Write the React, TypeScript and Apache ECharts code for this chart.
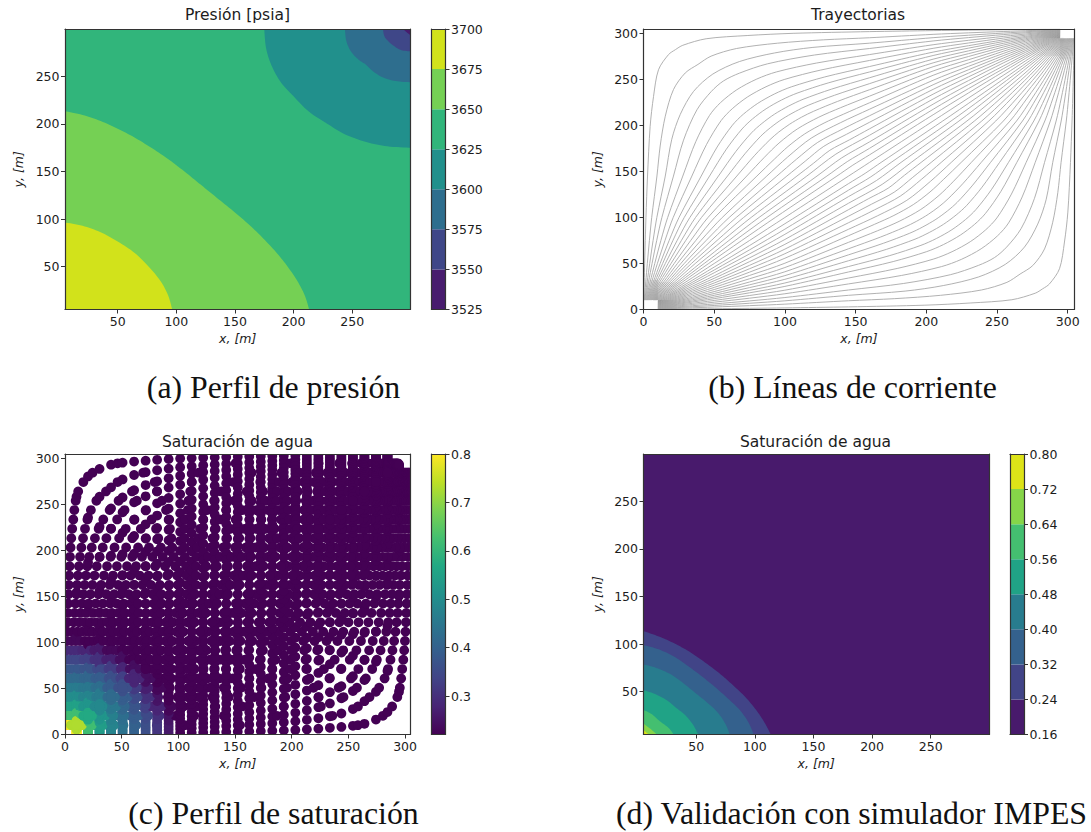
import React, { useEffect, useRef } from "react";
import * as echarts from "echarts";

const GRID_MIN = 5.08;
const GRID_MAX = 299.72;
const FIELD_MAX = 304.8;
const CELL = 10.16;
const WELL = 10.2;

const contourTicks = [50, 100, 150, 200, 250];
const fullTicks = [0, 50, 100, 150, 200, 250, 300];

// (a) pressure
const pressureLevels = [3525, 3550, 3575, 3600, 3625, 3650, 3675, 3700];
const pressureColors = ["#481c6e", "#3f4788", "#2e6e8e", "#21908c", "#31b57b", "#75d054", "#d2e21b"];
const p3650 = [[5.08, 213.3], [20, 209.5], [35.5, 203], [50, 195], [64, 186], [78, 175.5], [92, 164], [107, 150], [121, 136], [136, 121], [150, 107], [164, 92], [175.5, 78], [186, 64], [195, 50], [203, 35.5], [209.5, 20], [213.3, 5.08]];
const p3675 = [[5.08, 96.5], [20, 93], [35, 86.5], [50, 76.5], [64.5, 64.5], [76.5, 50], [86.5, 35], [93, 20], [96.5, 5.08]];
const p3625 = [[175, 299.72], [176.5, 280], [181, 262], [189, 244], [200, 229], [213, 213], [229, 200], [244, 189], [262, 181], [280, 176.5], [299.72, 175]];
const p3600 = [[243.8, 299.72], [245, 287], [249, 276], [255.5, 267.5], [262, 262], [267.5, 255.5], [276, 249], [287, 245], [299.72, 243.8]];
const p3575 = [[276.2, 299.72], [277.5, 292], [281.5, 286], [286, 281.5], [292, 277.5], [299.72, 276.2]];
const p3550 = [[293.2, 299.72], [299.72, 293]];

// (d) IMPES saturation
const impesLevels = [0.16, 0.24, 0.32, 0.4, 0.48, 0.56, 0.64, 0.72, 0.8];
const impesColors = ["#481a6c", "#414487", "#34618d", "#287c8e", "#20a386", "#44bf70", "#86d549", "#dde318"];
const s024 = [[5.08, 113.6], [15, 109.5], [25, 104.5], [35, 98.5], [45, 91.5], [55, 83], [65, 74], [74, 65], [83, 55], [91.5, 45], [98.5, 35], [104.5, 25], [109.5, 15], [113.6, 5.08]];
const s032 = [[5.08, 99], [18, 94.5], [31, 87], [43, 77], [55, 66], [66, 55], [77, 43], [87, 31], [94.5, 18], [99, 5.08]];
const s040 = [[5.08, 78.7], [16, 75], [28, 68.5], [38, 60], [49, 49], [60, 38], [68.5, 28], [75, 16], [78.7, 5.08]];
const s048 = [[5.08, 51.7], [15, 47.5], [25, 41], [33, 33], [41, 25], [47.5, 15], [51.7, 5.08]];
const s056 = [[5.08, 30.8], [12, 26.5], [19, 19], [26.5, 12], [30.8, 5.08]];
const s064 = [[5.08, 16.5], [11, 11], [16.5, 5.08]];
const s072 = [[5.08, 9.8], [9.4, 5.08]];

// (b) streamlines: x where each line of the upper half crosses these heights
const wellStartX = [0.16, 0.54, 0.88, 1.2, 1.6, 2, 2.35, 2.7, 3.1, 3.5, 3.9, 4.35, 4.83, 5.3, 5.8, 6.33, 6.88, 7.45, 8.06, 8.7, 9.38, 10.2];
const xAt18 = [0.29, 0.96, 1.55, 2.14, 2.81, 3.47, 4.16, 4.78, 5.46, 6.15, 6.89, 7.69, 8.54, 9.39, 10.28, 11.19, 12.17, 13.16, 14.24, 15.36, 16.55, 18];
const xAt30 = [0.48, 1.6, 2.6, 3.58, 4.71, 5.81, 6.96, 8, 9.13, 10.3, 11.5, 12.86, 14.28, 15.7, 17.2, 18.7, 20.3, 22, 23.8, 25.6, 27.6, 30];
const xAt50 = [0.81, 2.7, 4.39, 6.05, 7.96, 9.83, 11.77, 13.53, 15.43, 17.4, 19.46, 21.7, 24, 26.4, 28.8, 31.3, 33.9, 36.6, 39.9, 42.9, 46.1, 50];
const xAt75 = [1.25, 4.18, 6.78, 9.34, 12.3, 15.2, 18.15, 20.8, 23.8, 26.8, 29.9, 33.4, 37, 40.6, 44.3, 48, 52, 56.1, 60.4, 64.8, 69.5, 75];
const xAt100 = [1.74, 5.81, 9.43, 13, 17.1, 21, 25.1, 28.8, 32.8, 36.8, 41, 45.6, 50.3, 55.7, 60.6, 65.6, 70.8, 76.1, 81.7, 87.3, 93.2, 100];
const xAt145 = [2.85, 9.5, 15.4, 21.2, 27.8, 34.2, 40.8, 46.7, 53, 59.4, 66, 73, 80.2, 87.2, 94.3, 101.4, 108.5, 115.5, 122.7, 129.7, 136.8, 145];
const upperBends = [
  [[4.7, 199], [7.1, 231.5], [10.6, 260.5], [17.7, 277], [22.5, 282.3]],
  [[11.8, 177.7], [15.4, 210], [21.2, 239], [29.5, 257], [38.5, 266.3]],
  [[20, 185], [26, 212], [35.4, 237], [49, 255.8]],
  [[28.3, 184], [37.8, 217], [48, 237], [56.5, 248.3]],
  [[37, 182.5], [46.6, 210.7], [54.4, 224.7], [66, 238.8]],
  [[44.6, 179.4], [54.9, 205.3], [62.8, 218.2], [73.7, 231.1]],
  [[52.1, 176.6], [62.9, 200.3], [70.6, 212.2], [80.8, 224]],
  [[58.6, 174.2], [69.7, 196.2], [77.1, 207.1], [86.7, 218.1]],
  [[65.4, 171.9], [76.4, 192], [83.7, 202.1], [92.6, 212.2]],
  [[72, 169.7], [82.9, 188.3], [89.7, 197.5], [98, 206.8]],
  [[78.7, 167.6], [89.4, 184.5], [95.7, 192.9], [103.4, 201.4]],
  [[85.5, 165.4], [95.8, 180.8], [108.7, 196.1]],
  [[92.5, 163.3], [102.2, 177.1], [114, 190.8]],
  [[101.9, 165.6], [118.6, 186.2]],
  [[108.2, 163.3], [123.2, 181.6]],
  [[114.4, 161.2], [127.5, 177.3]],
  [[120.3, 159], [131.8, 173]],
  [[136, 168.8]],
  [[140.1, 164.7]],
  [[144.1, 160.7]],
  [[148, 156.8]],
  [[152.4, 152.4]],
];
// shaded blocks next to the wells: [x0, y0, x1, y1, dark corner x, dark corner y, light corner x, light corner y, dark, light]
const wellBlocks = [
  [10.2, 0, 32, 10.2, 10.2, 5, 32, 5, "#555555", "rgba(225,225,225,0.2)"],
  [0, 10.2, 10.2, 32, 10.2, 10.2, 0, 32, "#999999", "rgba(225,225,225,0.2)"],
  [10.2, 10.2, 30, 30, 10.2, 10.2, 30, 30, "#c4c4c4", "rgba(235,235,235,0.2)"],
  [272, 294.6, 294.6, 304.8, 294.6, 300, 272, 300, "#606060", "rgba(225,225,225,0.2)"],
  [294.6, 272, 304.8, 294.6, 294.6, 294.6, 304.8, 272, "#aaaaaa", "rgba(235,235,235,0.2)"],
  [275, 275, 294.6, 294.6, 294.6, 294.6, 275, 275, "#c4c4c4", "rgba(235,235,235,0.2)"],
];

// (c) saturation read per grid cell near the injector (rows y = 0,10..100; columns x = 0,10..100)
const satBackground = 0.2205;
const satTable = [
  [0.8, 0.8, 0.62, 0.52, 0.47, 0.43, 0.4, 0.36, 0.31, 0.27, 0.22],
  [0.8, 0.73, 0.62, 0.54, 0.48, 0.44, 0.4, 0.36, 0.31, 0.26, 0.22],
  [0.62, 0.62, 0.57, 0.52, 0.47, 0.43, 0.39, 0.35, 0.3, 0.25, 0.22],
  [0.56, 0.55, 0.52, 0.49, 0.45, 0.41, 0.37, 0.33, 0.28, 0.23, 0.22],
  [0.5, 0.5, 0.48, 0.46, 0.42, 0.39, 0.35, 0.3, 0.25, 0.22, 0.22],
  [0.46, 0.46, 0.45, 0.43, 0.39, 0.36, 0.32, 0.27, 0.23, 0.22, 0.22],
  [0.42, 0.42, 0.41, 0.39, 0.36, 0.33, 0.28, 0.24, 0.22, 0.22, 0.22],
  [0.38, 0.38, 0.37, 0.35, 0.32, 0.28, 0.24, 0.22, 0.22, 0.22, 0.22],
  [0.34, 0.34, 0.33, 0.3, 0.27, 0.24, 0.22, 0.22, 0.22, 0.22, 0.22],
  [0.29, 0.29, 0.28, 0.26, 0.23, 0.22, 0.22, 0.22, 0.22, 0.22, 0.22],
  [0.23, 0.23, 0.22, 0.22, 0.22, 0.22, 0.22, 0.22, 0.22, 0.22, 0.22],
];
const satBarTicks = [0.3, 0.4, 0.5, 0.6, 0.7, 0.8];
const viridisStops = ["#440154", "#482475", "#414487", "#355f8d", "#2a788e", "#21918c", "#22a884", "#44bf70", "#7ad151", "#bddf26", "#fde725"];

const titles = ["Presión [psia]", "Trayectorias", "Saturación de agua", "Saturación de agua"];
const captions = ["(a) Perfil de presión", "(b) Líneas de corriente", "(c) Perfil de saturación", "(d) Validación con simulador IMPES"];

const FONT = "DejaVu Sans";
const INK = "#1c1c1c";
const FRAME = "#333333";

function hexRgb(h: string) {
  return [1, 3, 5].map((i) => parseInt(h.slice(i, i + 2), 16));
}
function viridis(t: number) {
  const c = Math.min(1, Math.max(0, t)) * (viridisStops.length - 1);
  const i = Math.min(viridisStops.length - 2, Math.floor(c));
  const a = hexRgb(viridisStops[i]);
  const b = hexRgb(viridisStops[i + 1]);
  const f = c - i;
  return `rgb(${a.map((v, n) => Math.round(v + (b[n] - v) * f)).join(",")})`;
}

function spline(pts: number[][], n = 8) {
  const out: number[][] = [];
  for (let i = 0; i < pts.length - 1; i++) {
    const p0 = pts[Math.max(0, i - 1)];
    const p1 = pts[i];
    const p2 = pts[i + 1];
    const p3 = pts[Math.min(pts.length - 1, i + 2)];
    for (let s = 0; s < n; s++) {
      const t = s / n;
      const t2 = t * t;
      const t3 = t2 * t;
      out.push([0, 1].map((d) => 0.5 * (2 * p1[d] + (p2[d] - p0[d]) * t + (2 * p0[d] - 5 * p1[d] + 4 * p2[d] - p3[d]) * t2 + (3 * p1[d] - p0[d] - 3 * p2[d] + p3[d]) * t3)));
    }
  }
  out.push(pts[pts.length - 1]);
  return out;
}

function buildLines() {
  const lines: number[][][] = [];
  xAt145.forEach((_, k) => {
    const half = [[wellStartX[k], WELL], [xAt18[k], 18], [xAt30[k], 30], [xAt50[k], 50], [xAt75[k], 75], [xAt100[k], 100], [xAt145[k], 145], ...upperBends[k]];
    const rest = half.slice(0, -1).reverse().map(([x, y]) => [FIELD_MAX - y, FIELD_MAX - x]);
    const line = [...half, ...rest];
    lines.push(line);
    if (k < xAt145.length - 1) lines.push(line.map(([x, y]) => [y, x]));
  });
  return lines;
}
const streamLines = buildLines();

function satAt(x: number, y: number) {
  const row = satTable[Math.round(y / CELL)];
  const v = row ? row[Math.round(x / CELL)] : undefined;
  return v === undefined ? satBackground : v;
}

// Samples lie where a streamline leaves the well or crosses a grid line of the simulation mesh.
function buildSamples() {
  const out: number[][] = [];
  streamLines.forEach((line) => {
    const fine = spline(line, 10);
    out.push([fine[0][0], fine[0][1], satAt(fine[0][0], fine[0][1])]);
    for (let i = 0; i < fine.length - 1; i++) {
      const [x0, y0] = fine[i];
      const [x1, y1] = fine[i + 1];
      [0, 1].forEach((d) => {
        const a = d === 0 ? x0 : y0;
        const b = d === 0 ? x1 : y1;
        const ka = Math.floor(a / CELL);
        const kb = Math.floor(b / CELL);
        if (ka !== kb && b !== a) {
          const g = Math.max(ka, kb) * CELL;
          const t = (g - a) / (b - a);
          const px = x0 + (x1 - x0) * t;
          const py = y0 + (y1 - y0) * t;
          out.push([px, py, satAt(px, py)]);
        }
      });
    }
  });
  return out;
}
const samples = buildSamples();

const axisText = { fontFamily: FONT, fontSize: 12.5, color: INK };

function frameAxis(gridIndex: number, position: string, min: number, max: number) {
  return {
    type: "value", gridIndex, position, min, max, z: 5, silent: true,
    axisLine: { show: true, onZero: false, lineStyle: { color: FRAME, width: 1.2 } },
    axisTick: { show: false }, axisLabel: { show: false }, splitLine: { show: false },
  };
}
function tickedAxis(gridIndex: number, position: string, min: number, max: number, ticks: number[], name: string, extra: any = {}) {
  return {
    ...frameAxis(gridIndex, position, min, max),
    name, nameLocation: "middle", nameMoveOverlap: false,
    nameTextStyle: { fontFamily: FONT, fontSize: 12.5, color: INK, fontStyle: "italic" },
    axisTick: { show: true, length: 4, customValues: ticks, lineStyle: { color: FRAME, width: 1 } },
    axisLabel: { show: true, margin: 5.5, customValues: ticks, showMinLabel: true, showMaxLabel: true, hideOverlap: false, ...axisText },
    ...extra,
  };
}

function App() {
  const ref = useRef<HTMLDivElement>(null);
  useEffect(() => {
    const chart = echarts.init(ref.current!, undefined, { renderer: "svg" });

    const grids: any[] = [];
    const xAxes: any[] = [];
    const yAxes: any[] = [];
    const series: any[] = [];

    function addPanel(left: number, top: number, width: number, min: number, max: number, ticks: number[]) {
      const g = grids.length;
      grids.push({ left, top, width, height: 280.5 });
      const xi = xAxes.length;
      const yi = yAxes.length;
      xAxes.push(tickedAxis(g, "bottom", min, max, ticks, "x, [m]", { nameGap: 22 }));
      xAxes.push(frameAxis(g, "top", min, max));
      yAxes.push(tickedAxis(g, "left", min, max, ticks, "y, [m]", { nameGap: 40 }));
      yAxes.push(frameAxis(g, "right", min, max));
      return { xAxisIndex: xi, yAxisIndex: yi };
    }
    function addBar(left: number, top: number, min: number, max: number, ticks: number[], fmt: (v: number) => string) {
      const g = grids.length;
      grids.push({ left, top, width: 14, height: 280.5 });
      const xi = xAxes.length;
      const yi = yAxes.length;
      xAxes.push(frameAxis(g, "bottom", 0, 1));
      xAxes.push(frameAxis(g, "top", 0, 1));
      yAxes.push(frameAxis(g, "left", min, max));
      const ax: any = tickedAxis(g, "right", min, max, ticks, "");
      ax.axisLabel.formatter = fmt;
      yAxes.push(ax);
      return { xAxisIndex: xi, yAxisIndex: yi };
    }

    function addContours(idx: any, backdrop: string, bands: { color: string; curve: number[][]; corner: number[] }[]) {
      const items = [{ color: backdrop, curve: [] as number[][], corner: [] as number[] }, ...bands];
      series.push({
        type: "custom", ...idx, clip: true, silent: true, data: items.map((_, i) => [i]),
        renderItem: (params: any, api: any) => {
          const b = items[params.dataIndex];
          if (!b.curve.length) {
            const points = [[GRID_MIN, GRID_MIN], [GRID_MAX, GRID_MIN], [GRID_MAX, GRID_MAX], [GRID_MIN, GRID_MAX]].map((p) => api.coord(p));
            return { type: "polygon", shape: { points }, style: { fill: b.color } };
          }
          const points = [...spline(b.curve.map((p) => api.coord(p))), api.coord(b.corner)];
          return { type: "polygon", shape: { points }, style: { fill: b.color } };
        },
      });
    }
    function addBands(idx: any, levels: number[], colors: string[]) {
      series.push({
        type: "custom", ...idx, clip: true, silent: true, data: colors.map((_, i) => [i]),
        renderItem: (params: any, api: any) => {
          const i = params.dataIndex;
          const a = api.coord([0, levels[i]]);
          const b = api.coord([1, levels[i + 1]]);
          return { type: "rect", shape: { x: a[0], y: b[1], width: b[0] - a[0], height: a[1] - b[1] }, style: { fill: colors[i] } };
        },
      });
    }

    // (a)
    const pa = addPanel(65, 29, 345.5, GRID_MIN, GRID_MAX, contourTicks);
    const ll = [GRID_MIN, GRID_MIN];
    const ur = [GRID_MAX, GRID_MAX];
    addContours(pa, pressureColors[4], [
      { color: pressureColors[5], curve: p3650, corner: ll },
      { color: pressureColors[6], curve: p3675, corner: ll },
      { color: pressureColors[3], curve: p3625, corner: ur },
      { color: pressureColors[2], curve: p3600, corner: ur },
      { color: pressureColors[1], curve: p3575, corner: ur },
      { color: pressureColors[0], curve: p3550, corner: ur },
    ]);
    addBands(addBar(431.5, 29, pressureLevels[0], pressureLevels[7], pressureLevels, (v) => String(v)), pressureLevels, pressureColors);

    // (b)
    const pb = addPanel(643.5, 29, 431, 0, FIELD_MAX, fullTicks);
    series.push({
      type: "custom", ...pb, clip: true, silent: true, data: wellBlocks.map((_, i) => [i]),
      renderItem: (params: any, api: any) => {
        const [x0, y0, x1, y1, dx, dy, lx, ly, dark, light] = wellBlocks[params.dataIndex] as any[];
        const a = api.coord([x0, y0]);
        const b = api.coord([x1, y1]);
        const w = b[0] - a[0];
        const h = a[1] - b[1];
        const pd = api.coord([dx, dy]);
        const pl = api.coord([lx, ly]);
        const fill = new echarts.graphic.LinearGradient(
          (pd[0] - a[0]) / w, (pd[1] - b[1]) / h, (pl[0] - a[0]) / w, (pl[1] - b[1]) / h,
          [{ offset: 0, color: dark }, { offset: 1, color: light }]
        );
        return { type: "rect", shape: { x: a[0], y: b[1], width: w, height: h }, style: { fill } };
      },
    });
    streamLines.forEach((line) => {
      series.push({
        type: "line", ...pb, data: line, smooth: 0.3, showSymbol: false, silent: true,
        lineStyle: { color: "#a8a8a8", width: 0.9 },
      });
    });

    // (c)
    const pc = addPanel(65, 454, 345.5, 0, FIELD_MAX, fullTicks);
    const satMin = satBackground;
    const satMax = 0.8;
    series.push({
      type: "custom", ...pc, clip: true, silent: true, data: samples, encode: { x: 0, y: 1 },
      renderItem: (_: any, api: any) => {
        const p = api.coord([api.value(0), api.value(1)]);
        return { type: "circle", shape: { cx: p[0], cy: p[1], r: 4.9 }, style: { fill: viridis((api.value(2) - satMin) / (satMax - satMin)) } };
      },
    });
    const barC = addBar(431.5, 454, satMin, satMax, satBarTicks, (v) => v.toFixed(1));
    series.push({
      type: "custom", ...barC, clip: true, silent: true, data: [[0]],
      renderItem: (_: any, api: any) => {
        const a = api.coord([0, satMin]);
        const b = api.coord([1, satMax]);
        const fill = new echarts.graphic.LinearGradient(0, 1, 0, 0, viridisStops.map((color, i) => ({ offset: i / (viridisStops.length - 1), color })));
        return { type: "rect", shape: { x: a[0], y: b[1], width: b[0] - a[0], height: a[1] - b[1] }, style: { fill } };
      },
    });

    // (d)
    const pd = addPanel(643.5, 454, 345.5, GRID_MIN, GRID_MAX, contourTicks);
    addContours(pd, impesColors[0], [s024, s032, s040, s048, s056, s064, s072].map((curve, i) => ({ color: impesColors[i + 1], curve, corner: ll })));
    addBands(addBar(1010, 454, impesLevels[0], impesLevels[8], impesLevels, (v) => v.toFixed(2)), impesLevels, impesColors);

    const titleCenters = [[237.5, 7], [858, 7], [237.5, 433.5], [815.5, 433.5]];
    const captionCenters = [[273.5, 371], [852.5, 371], [273.5, 797], [851.5, 797]];
    const title = [
      ...titles.map((text, i) => ({
        text, left: titleCenters[i][0], top: titleCenters[i][1], textAlign: "center", padding: 0,
        textStyle: { fontFamily: FONT, fontSize: 15.5, fontWeight: "normal", color: INK },
      })),
      ...captions.map((text, i) => ({
        text, left: captionCenters[i][0], top: captionCenters[i][1], textAlign: "center", padding: 0,
        textStyle: { fontFamily: "Liberation Serif", fontSize: 31.8, fontWeight: "normal", color: "#111111" },
      })),
    ];

    chart.setOption({ animation: false, backgroundColor: "#ffffff", title, grid: grids, xAxis: xAxes, yAxis: yAxes, series });
    return () => chart.dispose();
  }, []);
  return <div ref={ref} style={{ position: "absolute", left: 0, top: 0, width: 1091, height: 832 }} />;
}

export default App;
